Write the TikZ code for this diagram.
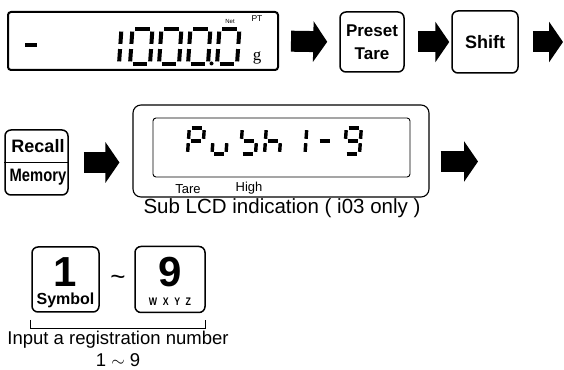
\documentclass[tikz,border=0pt]{standalone}
\usepackage{fontspec}
\setmainfont{Liberation Sans}
\newfontfamily\seriffont{Liberation Serif}
\usetikzlibrary{positioning,arrows.meta,calc}

% seven segment digit: x, y, width, height, segments (0=a ... 6=g)
\newcommand{\segdigit}[5]{%
  \begin{scope}[shift={(#1,#2)}, xslant=0.07]
    \foreach \s in {#5}{%
      \ifcase\s
        \draw[seg] (0,#4) -- (#3,#4);
      \or \draw[seg] (#3,#4) -- (#3,#4/2);
      \or \draw[seg] (#3,#4/2) -- (#3,0);
      \or \draw[seg] (0,0) -- (#3,0);
      \or \draw[seg] (0,0) -- (0,#4/2);
      \or \draw[seg] (0,#4/2) -- (0,#4);
      \or \draw[seg] (0,#4/2) -- (#3,#4/2);
      \fi
    }
  \end{scope}}

\begin{document}
\begin{tikzpicture}[
  x=1pt, y=1pt,
  key/.style={draw=black, line width=1.5pt, rounded corners=6pt, inner sep=0pt, align=center},
  lcdbox/.style={draw=black, line width=2pt, rounded corners=3pt},
  blockarr/.style={line width=21pt, -{Triangle[length=14pt,width=40pt]}},
  keytxt/.style={font=\fontsize{17}{23}\selectfont\bfseries},
  lab/.style={font=\fontsize{13}{15}\selectfont, inner sep=0pt},
  captxt/.style={font=\fontsize{20.5}{22}\selectfont, inner sep=0pt},
  seg/.style={line width=4pt, shorten <=2.6pt, shorten >=2.6pt}
]
  \useasboundingbox (0,0) rectangle (564,369);

  % Weighing display
  \node[lcdbox, minimum width=270pt, minimum height=58pt] (lcd) at (143,328) {};
  \draw[line width=3.8pt] (25,324) -- (37,324);
  \segdigit{99}{305}{20}{35}{1,2}
  \segdigit{130}{305}{20}{35}{0,1,2,3,4,5}
  \segdigit{159}{305}{20}{35}{0,1,2,3,4,5}
  \segdigit{188}{305}{20}{35}{0,1,2,3,4,5}
  \segdigit{217}{305}{20}{35}{0,1,2,3,4,5}
  \fill (211.5,305.5) circle (2pt);
  \node[font=\fontsize{6}{7}\selectfont, inner sep=0pt] (net) at (230,348) {Net};
  \node[font=\fontsize{8.5}{9}\selectfont, inner sep=0pt] (pt) at (257,350) {PT};
  \node[font=\seriffont\fontsize{17}{18}\selectfont, inner sep=0pt] (unit) at (257,311) {g};

  % Keys, first row
  \node[key, keytxt, minimum width=64pt, minimum height=60pt] (preset) at (372,327) {Preset\\Tare};
  \node[key, font=\fontsize{18}{20}\selectfont\bfseries, minimum width=66pt, minimum height=62pt] (shift) at (485,327) {Shift};
  \coordinate (end1) at (563,327);

  \draw[blockarr, shorten <=12pt, shorten >=12pt] (lcd.east) -- (preset.west);
  \draw[blockarr, shorten <=13pt, shorten >=2pt] (preset.east) -- (shift.west);
  \draw[blockarr, shorten <=14pt] (shift.east) -- (end1);

  % Recall key and sub display
  \node[key, minimum width=63pt, minimum height=65pt] (recall) at (36.5,206.5) {};
  \draw[line width=1.2pt] (recall.west) -- (recall.east);
  \node[font=\fontsize{18}{20}\selectfont\bfseries, inner sep=0pt] (rc) at (38,223) {Recall};
  \node[font=\fontsize{18}{20}\selectfont\bfseries, inner sep=0pt, xscale=0.82] (mem) at (38,192) {Memory};

  \node[draw=black, line width=1.1pt, rounded corners=8pt, minimum width=296pt, minimum height=92pt] (sub) at (281,218) {};
  \node[draw=black, line width=0.9pt, rounded corners=3pt, minimum width=257pt, minimum height=59pt] (inner) at (281.5,221.5) {};
  \begin{scope}[seg/.style={line width=3.4pt, shorten <=2.2pt, shorten >=2.2pt}]
    \segdigit{187.5}{215}{15}{26}{0,1,4,5,6}
    \segdigit{212}{215}{14}{26}{2,3,4}
    \segdigit{240.5}{215}{15}{26}{2,3,5,6}
    \segdigit{264.5}{215}{15}{26}{2,4,5,6}
    \segdigit{290}{215}{15}{26}{1,2}
    \segdigit{316.5}{215}{15}{26}{6}
    \segdigit{344.5}{215}{15}{26}{0,1,2,3,5,6}
  \end{scope}
  \node[lab] (tare) at (188,180) {Tare};
  \node[lab] (high) at (249,181) {High};
  \node[captxt] (subcap) at (282,161) {Sub LCD indication ( i03 only )};

  \coordinate (end2) at (478,207.5);
  \draw[blockarr, shorten <=15pt, shorten >=13pt] (recall.east) -- (recall.east -| sub.west);
  \draw[blockarr, shorten <=11pt] (end2 -| sub.east) -- (end2);

  % Number keys
  \node[key, minimum width=67pt, minimum height=65pt] (key1) at (65.5,89.5) {};
  \node[font=\fontsize{42}{44}\selectfont\bfseries, inner sep=0pt] (one) at (65.5,97) {1};
  \node[font=\fontsize{16}{18}\selectfont\bfseries, inner sep=0pt] (sym) at (65.5,69) {Symbol};
  \node[key, minimum width=70pt, minimum height=66pt] (key9) at (170,89.5) {};
  \node[font=\fontsize{42}{44}\selectfont\bfseries, inner sep=0pt] (nine) at (170,97) {9};
  \node[font=\fontsize{11}{12}\selectfont\bfseries, inner sep=0pt, xscale=0.8] (wxyz) at (170,67) {W\hspace{7pt}X\hspace{7pt}Y\hspace{7pt}Z};
  \node[font=\fontsize{26}{28}\selectfont, inner sep=0pt] (tilde) at (118,89) {\textasciitilde};

  \coordinate (brl) at (30,49);
  \coordinate (brr) at (205,49);
  \draw[line width=0.9pt] (brl) -- ++(0,-8) -| (brr);
  \node[captxt, font=\fontsize{18.5}{21}\selectfont] (inp) at (118,29) {Input a registration number};
  \node[captxt, font=\fontsize{18.5}{21}\selectfont] (range) at (118,9) {1 $\sim$ 9};
\end{tikzpicture}
\end{document}
